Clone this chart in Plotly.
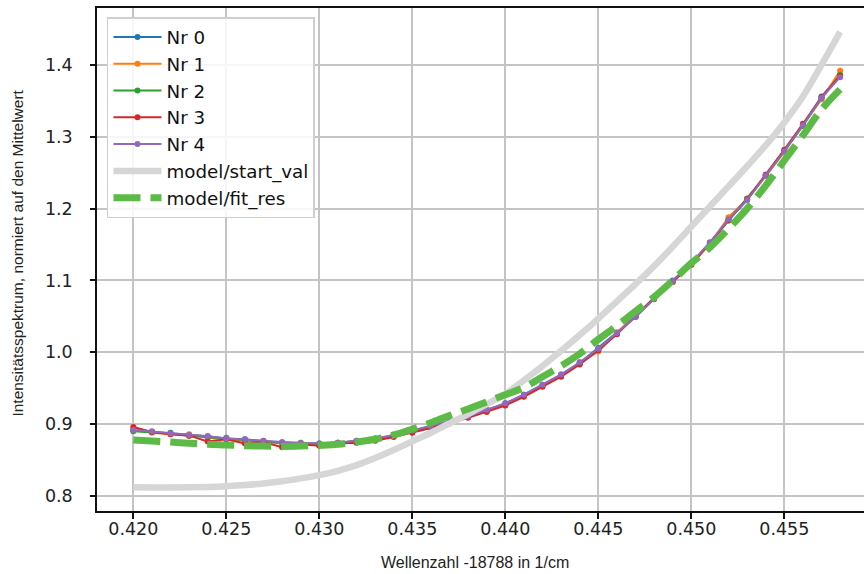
import plotly.graph_objects as go

# Wavenumber offset axis (1/cm, relative to 18788)
wavenumber = [
    0.420, 0.421, 0.422, 0.423, 0.424, 0.425, 0.426, 0.427, 0.428, 0.429,
    0.430, 0.431, 0.432, 0.433, 0.434, 0.435, 0.436, 0.437, 0.438, 0.439,
    0.440, 0.441, 0.442, 0.443, 0.444, 0.445, 0.446, 0.447, 0.448, 0.449,
    0.450, 0.451, 0.452, 0.453, 0.454, 0.455, 0.456, 0.457, 0.458,
]

# Measured spectra, normalised to their mean
nr0 = [0.891, 0.889, 0.888, 0.885, 0.883, 0.880, 0.879, 0.876, 0.874, 0.873,
       0.873, 0.874, 0.876, 0.880, 0.884, 0.890, 0.897, 0.903, 0.911, 0.919,
       0.929, 0.941, 0.955, 0.969, 0.985, 1.006, 1.027, 1.049, 1.075, 1.099,
       1.124, 1.153, 1.184, 1.212, 1.247, 1.281, 1.316, 1.356, 1.386]
nr1 = [0.893, 0.888, 0.886, 0.886, 0.881, 0.879, 0.877, 0.877, 0.873, 0.874,
       0.871, 0.873, 0.877, 0.878, 0.885, 0.889, 0.896, 0.902, 0.912, 0.918,
       0.928, 0.939, 0.954, 0.967, 0.986, 1.001, 1.028, 1.051, 1.076, 1.098,
       1.122, 1.151, 1.188, 1.213, 1.245, 1.279, 1.317, 1.352, 1.392]
nr2 = [0.890, 0.889, 0.887, 0.884, 0.882, 0.881, 0.878, 0.875, 0.874, 0.873,
       0.872, 0.874, 0.876, 0.879, 0.883, 0.891, 0.896, 0.904, 0.910, 0.920,
       0.927, 0.940, 0.953, 0.968, 0.984, 1.004, 1.026, 1.050, 1.074, 1.100,
       1.123, 1.152, 1.183, 1.214, 1.246, 1.280, 1.315, 1.354, 1.386]
nr3 = [0.896, 0.889, 0.886, 0.884, 0.876, 0.879, 0.873, 0.875, 0.868, 0.872,
       0.870, 0.873, 0.874, 0.877, 0.882, 0.888, 0.895, 0.901, 0.909, 0.917,
       0.926, 0.938, 0.952, 0.966, 0.983, 1.003, 1.025, 1.050, 1.076, 1.098,
       1.122, 1.152, 1.184, 1.213, 1.247, 1.282, 1.318, 1.355, 1.385]
nr4 = [0.892, 0.890, 0.887, 0.885, 0.883, 0.880, 0.879, 0.877, 0.875, 0.874,
       0.873, 0.874, 0.877, 0.880, 0.885, 0.891, 0.897, 0.904, 0.911, 0.920,
       0.929, 0.941, 0.955, 0.969, 0.986, 1.005, 1.027, 1.049, 1.075, 1.099,
       1.124, 1.153, 1.185, 1.212, 1.246, 1.280, 1.316, 1.354, 1.383]

# Model evaluated with start values and with fitted parameters
start_val = [0.8120, 0.8118, 0.8118, 0.8120, 0.8126, 0.8137, 0.8153, 0.8175, 0.8205, 0.8245,
             0.8290, 0.8350, 0.8430, 0.8530, 0.8640, 0.8760, 0.8880, 0.9010, 0.9140, 0.9280,
             0.9420, 0.9610, 0.9810, 1.0020, 1.0240, 1.0470, 1.0710, 1.0950, 1.1200, 1.1470,
             1.1750, 1.2030, 1.2310, 1.2590, 1.2880, 1.3200, 1.3560, 1.4000, 1.4460]
fit_res = [0.8780, 0.8765, 0.8750, 0.8735, 0.8720, 0.8710, 0.8700, 0.8695, 0.8690, 0.8695,
           0.8705, 0.8720, 0.8750, 0.8790, 0.8850, 0.8930, 0.9020, 0.9120, 0.9210, 0.9310,
           0.9410, 0.9510, 0.9660, 0.9810, 0.9980, 1.0180, 1.0370, 1.0570, 1.0770, 1.1000,
           1.1240, 1.1460, 1.1720, 1.2000, 1.2320, 1.2670, 1.3020, 1.3380, 1.3660]

x_ticks = [0.420, 0.425, 0.430, 0.435, 0.440, 0.445, 0.450, 0.455]
x_tick_text = ["0.420", "0.425", "0.430", "0.435", "0.440", "0.445", "0.450", "0.455"]
y_ticks = [0.8, 0.9, 1.0, 1.1, 1.2, 1.3, 1.4]
y_tick_text = ["0.8", "0.9", "1.0", "1.1", "1.2", "1.3", "1.4"]

series = [
    ("Nr 0", nr0, "#1f77b4"),
    ("Nr 1", nr1, "#ff7f0e"),
    ("Nr 2", nr2, "#2ca02c"),
    ("Nr 3", nr3, "#d62728"),
    ("Nr 4", nr4, "#9467bd"),
]

fig = go.Figure()
for name, vals, color in series:
    fig.add_trace(go.Scatter(
        x=wavenumber, y=vals, name=name, mode="lines+markers",
        line=dict(color=color, width=2),
        marker=dict(color=color, size=6),
    ))

fig.add_trace(go.Scatter(
    x=wavenumber, y=start_val, name="model/start_val", mode="lines",
    line=dict(color="#d6d6d6", width=6.5, shape="spline"),
))
fig.add_trace(go.Scatter(
    x=wavenumber, y=fit_res, name="model/fit_res", mode="lines",
    line=dict(color="#5cba47", width=7, dash="27px,10px", shape="spline"),
))

axis_font = dict(family="DejaVu Sans", size=17.5, color="#222222")

fig.update_layout(
    width=864, height=574,
    margin=dict(l=97, r=0, t=8, b=63),
    paper_bgcolor="white", plot_bgcolor="white",
    showlegend=True,
    legend=dict(
        x=0.013, y=0.982, xanchor="left", yanchor="top",
        bgcolor="rgba(255,255,255,0.85)",
        bordercolor="#cfcfcf", borderwidth=1.5,
        font=dict(family="DejaVu Sans", size=18.3, color="#111111"),
        itemwidth=48,
        entrywidth=156,
    ),
    xaxis=dict(
        range=[0.418048, 0.459285],
        tickmode="array", tickvals=x_ticks, ticktext=x_tick_text,
        ticks="outside", ticklen=6, tickwidth=1.5, tickcolor="#111111",
        showline=True, linecolor="#111111", linewidth=1.5, mirror=True,
        showgrid=True, gridcolor="#c4c4c4", gridwidth=1.5,
        zeroline=False, tickfont=axis_font, ticklabelstandoff=-5,
    ),
    yaxis=dict(
        range=[0.77911, 1.47925],
        tickmode="array", tickvals=y_ticks, ticktext=y_tick_text,
        ticks="outside", ticklen=5, tickwidth=1.5, tickcolor="#111111",
        showline=True, linecolor="#111111", linewidth=1.5,
        showgrid=True, gridcolor="#c4c4c4", gridwidth=1.5,
        zeroline=False, tickfont=axis_font, ticklabelstandoff=14,
    ),
    annotations=[
        dict(text="Wellenzahl -18788 in 1/cm", xref="paper", yref="paper",
             x=0.4928, y=-0.102, xanchor="center", yanchor="middle",
             showarrow=False,
             font=dict(family="Liberation Sans", size=16, color="#222222")),
        dict(text="Intensitätsspektrum, normiert auf den Mittelwert",
             xref="paper", yref="paper", x=-0.103, y=0.5137,
             xanchor="center", yanchor="middle", textangle=-90,
             showarrow=False,
             font=dict(family="Liberation Sans", size=15.5, color="#222222")),
    ],
)

fig.write_html("out.html")
